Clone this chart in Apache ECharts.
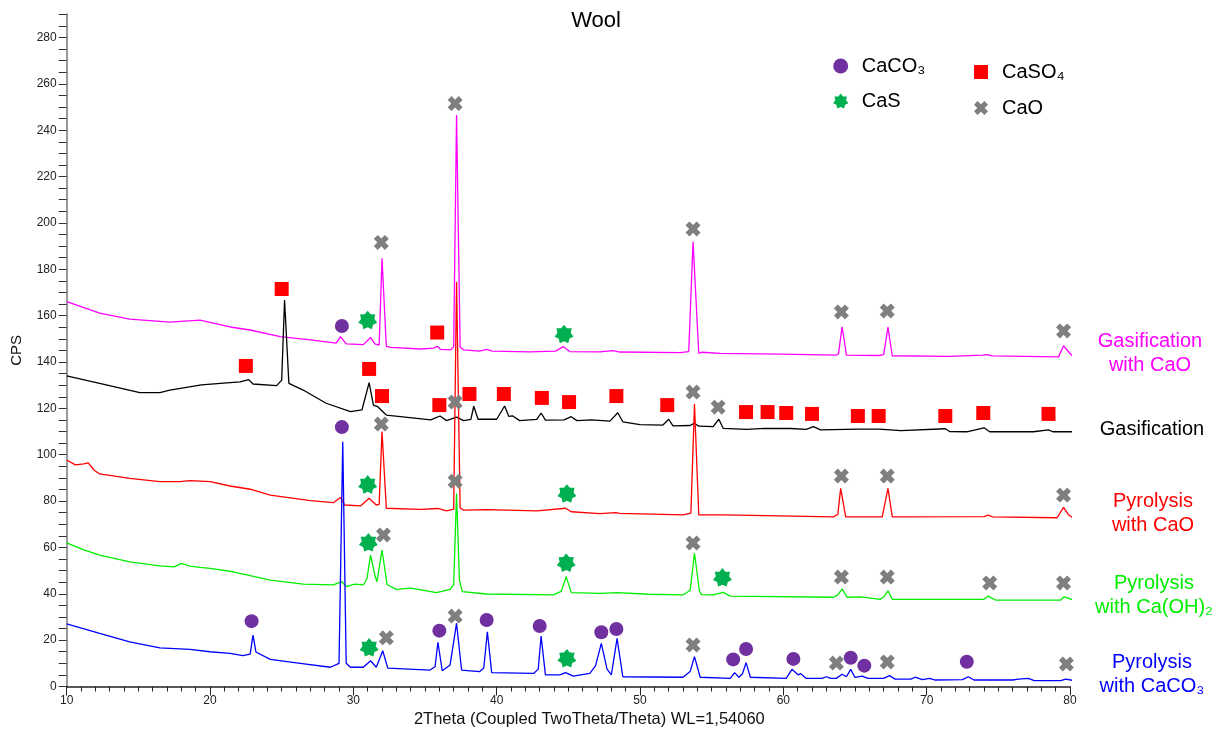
<!DOCTYPE html>
<html>
<head>
<meta charset="utf-8">
<script src="https://cdn.jsdelivr.net/npm/echarts@6/dist/echarts.min.js"></script>
<style>
html,body{margin:0;padding:0;background:#fff;}
#chart{width:1228px;height:749px;}
</style>
</head>
<body>
<div id="chart"></div>
<script>
// ---- data (2Theta, CPS) ----
const gasificationWithCaO = [[10,166.0],[12.3,161.1],[14.4,158.5],[17.2,157.2],[19.3,158.1],[21.4,155.1],[22.8,153.8],[24.9,150.9],[27.0,149.5],[28.8,148.1],[29.1,150.9],[29.5,147.8],[30.7,147.5],[31.2,150.6],[31.5,147.8],[31.8,147.3],[32.0,184.7],[32.3,146.7],[32.6,146.3],[34.7,145.6],[35.6,146.0],[35.85,146.8],[36.1,145.4],[36.8,145.2],[37.0,146.6],[37.2,246.5],[37.45,146.5],[37.7,145.2],[38.8,144.7],[39.3,145.4],[39.7,144.7],[42.3,144.4],[44.1,144.7],[44.65,146.6],[45.1,144.5],[47.2,144.4],[48.1,144.9],[48.6,144.3],[52.8,144.0],[53.4,144.5],[53.7,191.9],[54.1,143.7],[54.3,144.2],[55.6,143.7],[59.8,143.4],[63.7,143.0],[63.85,143.6],[64.1,155.2],[64.4,143.0],[66.7,142.8],[67.0,143.2],[67.3,155.0],[67.6,142.7],[71.6,142.4],[73.9,143.0],[74.2,143.2],[74.6,142.6],[79.2,142.2],[79.55,147.0],[79.9,144.4],[80.1,143.0],[80.4,142.4]];

const gasification = [[10,134.0],[12.3,130.8],[15.1,126.8],[16.5,126.8],[17.2,127.9],[19.4,130.1],[21.4,131.1],[22.1,131.4],[22.7,132.4],[23.0,130.5],[24.65,129.8],[25.0,132.2],[25.2,166.7],[25.5,130.8],[26.5,127.9],[28.1,122.2],[29.8,118.6],[30.6,119.3],[31.1,131.1],[31.4,121.4],[31.7,120.7],[32.3,117.1],[35.4,115.0],[36.05,116.7],[36.5,114.7],[37.2,116.2],[37.7,114.7],[38.2,115.2],[38.4,120.9],[38.7,115.3],[40.0,115.3],[40.55,121.0],[40.85,116.5],[41.1,116.8],[41.6,114.7],[42.8,115.2],[43.1,118.0],[43.4,114.9],[44.7,115.0],[45.2,116.4],[45.6,114.7],[46.6,115.0],[47.9,114.5],[48.45,118.1],[48.8,114.2],[50.0,113.0],[51.6,112.8],[52.0,115.3],[52.3,112.4],[53.5,112.6],[53.8,113.6],[54.1,112.3],[55.1,112.1],[55.5,115.3],[55.8,111.4],[57.45,110.9],[58.7,111.4],[60.5,111.3],[61.6,110.9],[62.1,112.1],[62.6,110.7],[65.25,111.0],[66.7,111.0],[68.2,110.4],[71.3,111.2],[71.6,110.0],[72.8,109.9],[74.0,111.6],[74.4,109.9],[77.45,109.9],[78.5,110.7],[78.8,109.9],[80.4,109.9]];

const pyrolysisWithCaO = [[10,97.7],[10.6,95.6],[11.2,96.0],[11.5,96.5],[11.9,93.4],[12.3,91.7],[14.4,89.8],[16.5,88.4],[17.9,88.4],[18.6,88.8],[20.0,88.4],[21.4,86.5],[22.8,85.1],[24.2,82.6],[27.0,80.2],[28.6,79.3],[29.1,81.5],[29.4,78.3],[30.5,77.9],[31.1,81.2],[31.6,78.3],[31.8,78.6],[32.0,110.0],[32.3,76.9],[34.65,76.4],[35.9,76.8],[36.5,75.8],[37.0,76.5],[37.2,174.6],[37.45,77.0],[37.7,76.1],[39.3,76.3],[42.8,75.8],[44.8,76.9],[45.2,75.4],[47.2,74.6],[48.3,75.0],[48.6,74.7],[53.0,74.0],[53.55,74.8],[53.8,121.9],[54.1,74.0],[55.8,74.0],[63.5,73.2],[63.8,74.2],[64.0,85.5],[64.35,73.2],[66.9,73.2],[67.3,85.5],[67.6,73.2],[74.0,73.3],[74.3,73.9],[74.6,73.2],[79.1,72.8],[79.55,77.3],[79.9,74.0],[80.4,72.1]];

const pyrolysisWithCaOH2 = [[10,62.0],[11.2,58.9],[12.3,56.7],[14.4,53.8],[16.5,52.0],[17.5,51.6],[18.0,53.1],[18.6,51.9],[19.3,51.4],[20.0,51.0],[21.6,49.5],[22.8,47.8],[24.2,45.9],[26.5,44.2],[28.6,43.8],[29.2,45.2],[29.5,43.1],[30.1,44.2],[30.7,43.8],[30.95,46.5],[31.2,56.7],[31.5,48.0],[31.65,45.2],[32.0,58.9],[32.35,44.0],[33.0,41.9],[34.0,42.4],[35.8,40.5],[36.75,41.9],[37.0,44.0],[37.2,83.3],[37.4,46.0],[37.6,40.9],[39.3,39.9],[43.95,39.5],[44.5,41.0],[44.85,47.4],[45.2,40.5],[47.2,40.2],[48.4,40.5],[50.6,39.8],[53.0,39.5],[53.5,41.5],[53.8,57.5],[54.15,41.0],[54.3,39.6],[55.1,39.5],[55.8,40.6],[56.3,39.0],[63.5,38.5],[63.8,39.5],[64.1,42.1],[64.45,38.5],[65.4,38.7],[66.75,37.6],[67.0,38.6],[67.3,41.3],[67.6,37.6],[74.0,37.6],[74.3,39.0],[74.8,37.3],[79.35,37.3],[79.6,38.7],[80.4,37.0]];

const pyrolysisWithCaCO3 = [[10,27.0],[12.3,22.9],[14.4,19.3],[16.5,16.7],[18.6,16.0],[20.0,15.0],[21.4,14.3],[22.3,13.3],[22.8,14.0],[23.0,22.2],[23.2,14.9],[24.2,11.7],[26.3,10.0],[28.4,8.3],[29.0,10.0],[29.26,105.6],[29.5,10.0],[29.8,8.3],[30.7,8.3],[31.2,11.1],[31.6,8.3],[32.05,15.4],[32.4,7.9],[35.35,7.1],[35.7,8.5],[35.9,19.1],[36.2,6.8],[36.75,9.3],[37.2,27.3],[37.55,7.1],[38.8,6.4],[39.1,8.0],[39.35,23.6],[39.65,6.0],[42.6,5.7],[42.9,7.5],[43.1,21.8],[43.4,5.0],[44.4,5.0],[44.8,6.0],[45.35,4.5],[46.5,5.7],[46.9,9.0],[47.3,18.6],[47.7,7.5],[48.0,5.0],[48.4,20.8],[48.8,4.2],[53.0,4.0],[53.5,6.5],[53.8,12.9],[54.2,4.0],[56.3,3.5],[56.6,6.0],[56.9,4.0],[57.15,5.5],[57.4,10.3],[57.7,4.0],[60.2,3.5],[60.6,7.4],[61.05,5.0],[61.2,5.6],[61.6,3.5],[62.7,3.5],[63.0,4.2],[63.3,3.5],[63.7,3.5],[64.1,5.3],[64.4,4.2],[64.7,7.4],[65.0,3.9],[65.5,4.5],[65.9,3.5],[67.0,3.5],[67.4,4.7],[67.8,3.2],[68.9,3.2],[69.2,4.0],[69.7,3.0],[70.2,3.5],[70.6,2.8],[72.5,3.0],[72.9,4.2],[73.3,2.8],[76.0,2.8],[76.4,3.2],[77.1,3.5],[77.5,2.5],[79.35,2.5],[79.7,3.2],[80.3,2.5]];

// phase markers (2Theta, CPS)
const markCaCO3 = [[29.2,155.5],[29.2,111.9],[22.9,28.2],[36.0,24.1],[39.3,28.7],[43.0,26.1],[47.3,23.4],[48.35,24.8],[56.5,11.7],[57.4,16.2],[60.7,11.9],[64.7,12.4],[65.65,9.0],[72.8,10.7]];
const markCaSO4 = [[25.0,171.5],[22.5,138.3],[35.85,152.7],[31.1,137.0],[32.0,125.3],[36.0,121.4],[38.1,126.2],[40.5,126.2],[43.15,124.5],[45.05,122.7],[48.35,125.3],[51.9,121.4],[57.4,118.4],[58.9,118.4],[60.2,118.0],[62.0,117.6],[65.2,116.7],[66.65,116.7],[71.3,116.7],[73.95,118.0],[78.5,117.6]];
const markCaS = [[31.0,158.1],[44.7,152.1],[31.0,87.2],[44.9,83.3],[31.05,62.2],[44.85,53.4],[31.1,16.9],[44.9,12.2],[55.75,47.1]];
const markCaO = [[31.95,191.6],[37.1,251.5],[53.7,197.4],[64.05,161.6],[67.25,162.0],[79.55,153.4],[37.1,122.7],[53.7,127.0],[55.45,120.5],[31.95,113.2],[37.1,88.6],[64.05,90.8],[67.25,90.8],[79.55,82.6],[32.1,65.4],[53.7,61.9],[64.05,47.2],[67.25,47.2],[74.4,44.7],[79.55,44.7],[32.3,21.0],[37.1,30.4],[53.7,17.9],[63.7,10.1],[67.25,10.6],[79.75,9.7]];

const seriesNames = ['Gasification with CaO','Gasification','Pyrolysis with CaO','Pyrolysis with Ca(OH)2','Pyrolysis with CaCO3'];
const phaseNames = ['CaCO₃','CaSO₄','CaS','CaO'];
const xTickValues = [10,20,30,40,50,60,70,80];
const yTickValues = [0,20,40,60,80,100,120,140,160,180,200,220,240,260,280];

// ---- symbols ----
function starPath(n, ro, ri) {
  let d = '';
  for (let i = 0; i < 2 * n; i++) {
    const a = -Math.PI / 2 + i * Math.PI / n;
    const r = i % 2 ? ri : ro;
    d += (i ? 'L' : 'M') + (50 + r * Math.cos(a)).toFixed(2) + ',' + (50 + r * Math.sin(a)).toFixed(2);
  }
  return 'path://' + d + 'Z';
}
const STAR = starPath(7, 50, 35);
const XMARK = 'path://M0,2.6L2.6,0L5,2.4L7.4,0L10,2.6L7.6,5L10,7.4L7.4,10L5,7.6L2.6,10L0,7.4L2.4,5Z';
const SQUARE = 'path://M0,0L10,0L10,10L0,10Z';

const FONT = '"Liberation Sans", Arial, sans-serif';
const lineColors = ['#FF00FF','#000000','#FF0000','#00EE00','#0000FF'];
const traces = [gasificationWithCaO, gasification, pyrolysisWithCaO, pyrolysisWithCaOH2, pyrolysisWithCaCO3];

const series = traces.map((d, i) => ({
  name: seriesNames[i], type: 'line', data: d, showSymbol: false, symbol: 'none',
  clip: false, lineStyle: {color: lineColors[i], width: 1.3}, z: 2, silent: true
}));
series.push(
  {name: phaseNames[0], type: 'scatter', data: markCaCO3, symbol: 'circle', symbolSize: 14, itemStyle: {color: '#7030A0', opacity: 1}, z: 5},
  {name: phaseNames[1], type: 'scatter', data: markCaSO4, symbol: SQUARE, symbolKeepAspect: true, symbolSize: 14, itemStyle: {color: '#FF0000', opacity: 1}, z: 5},
  {name: phaseNames[2], type: 'scatter', data: markCaS, symbol: STAR, symbolKeepAspect: true, symbolSize: 19, itemStyle: {color: '#00B050', opacity: 1}, z: 5},
  {name: phaseNames[3], type: 'scatter', data: markCaO, symbol: XMARK, symbolSize: 15, itemStyle: {color: '#7F7F7F', opacity: 1}, z: 5}
);

const labelBase = {fontFamily: FONT, fontSize: 20, fontWeight: 'normal', lineHeight: 24};
function rightLabel(text, color, cx, top) {
  return {text: text, left: cx, top: top, textAlign: 'center', padding: 0,
          textStyle: Object.assign({color: color}, labelBase)};
}

const option = {
  animation: false,
  backgroundColor: '#ffffff',
  title: [
    {text: 'Wool', left: 596, top: 9, textAlign: 'center', padding: 0,
     textStyle: {fontFamily: FONT, fontSize: 22, fontWeight: 'normal', color: '#000', lineHeight: 24}},
    rightLabel('Gasification\nwith CaO', '#FF00FF', 1150, 329),
    rightLabel('Gasification', '#000000', 1152, 417),
    rightLabel('Pyrolysis\nwith CaO', '#FF0000', 1153, 489),
    rightLabel('Pyrolysis\nwith Ca(OH)₂', '#00EE00', 1154, 571),
    rightLabel('Pyrolysis\nwith CaCO₃', '#0000FF', 1152, 650)
  ],
  legend: [
    {data: [phaseNames[0], phaseNames[2]], orient: 'vertical', left: 833, top: 56,
     itemWidth: 32, itemHeight: 15, itemGap: 15, selectedMode: false, padding: 0,
     textStyle: {fontFamily: FONT, fontSize: 20, color: '#000', lineHeight: 20}},
    {data: [phaseNames[1], phaseNames[3]], orient: 'vertical', left: 974, top: 62,
     itemWidth: 32, itemHeight: 14, itemGap: 16, selectedMode: false, padding: 0,
     textStyle: {fontFamily: FONT, fontSize: 20, color: '#000', lineHeight: 20}}
  ],
  grid: {left: 66.7, right: 158, top: 14.3, bottom: 62.5, containLabel: false},
  xAxis: {
    type: 'value', min: 10, max: 80, interval: 10,
    name: '2Theta (Coupled TwoTheta/Theta) WL=1,54060', nameLocation: 'middle', nameGap: 16,
    nameTextStyle: {fontFamily: FONT, fontSize: 16.5, color: '#111', padding: [0, 0, 0, 42]},
    axisLine: {show: true, lineStyle: {color: '#222', width: 1.5}},
    axisTick: {show: true, length: 9, lineStyle: {color: '#222'}},
    minorTick: {show: true, splitNumber: 10, length: 5, lineStyle: {color: '#222'}},
    splitLine: {show: false},
    axisLabel: {fontFamily: FONT, fontSize: 12, color: '#222', margin: 8,
      formatter: v => xTickValues.indexOf(v) >= 0 ? String(v) : ''}
  },
  yAxis: {
    type: 'value', min: 0, max: 290, interval: 5,
    name: 'CPS', nameLocation: 'middle', nameGap: 42, nameRotate: 90,
    nameTextStyle: {fontFamily: FONT, fontSize: 15, color: '#111'},
    axisLine: {show: true, lineStyle: {color: '#999', width: 2}},
    axisTick: {show: true, length: 8, lineStyle: {color: '#333'}},
    splitLine: {show: false},
    axisLabel: {fontFamily: FONT, fontSize: 12, color: '#222', margin: 10,
      formatter: v => yTickValues.indexOf(v) >= 0 ? String(v) : ''}
  },
  series: series
};

const chart = echarts.init(document.getElementById('chart'), null, {renderer: 'canvas'});
chart.setOption(option);
</script>
</body>
</html>
